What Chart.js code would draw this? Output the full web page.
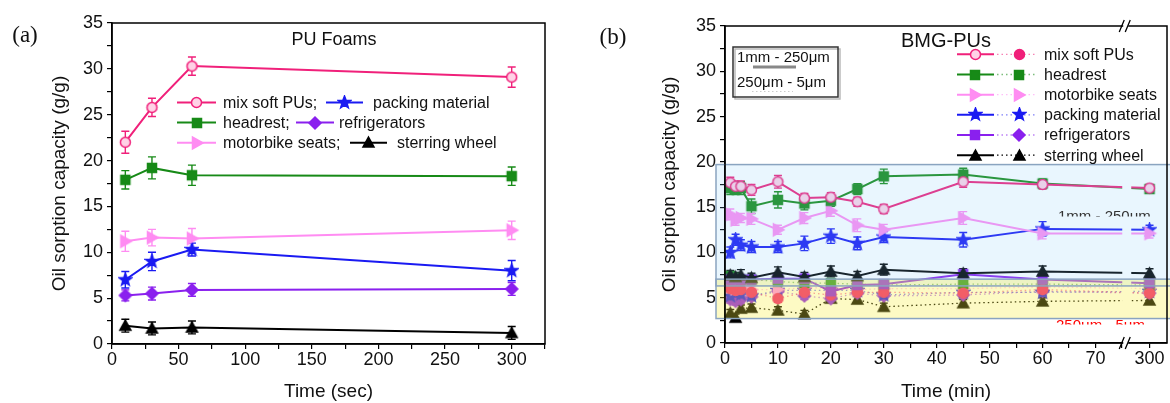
<!DOCTYPE html>
<html>
<head>
<meta charset="utf-8">
<script src="https://cdn.jsdelivr.net/npm/chart.js@4.4.0/dist/chart.umd.min.js"></script>
<style>
  html, body { margin: 0; padding: 0; background: #fff; }
  #wrap { position: relative; width: 1170px; height: 403px; }
  canvas { position: absolute; top: 0; }
</style>
</head>
<body>
<div id="wrap">
  <canvas id="chartA" width="585" height="403" style="left:0"></canvas>
  <canvas id="chartB" width="585" height="403" style="left:585px"></canvas>
</div>
<script>
// ---- panel (a): PU foams, time in seconds ----
const aTime = [10, 30, 60, 300];
const aMixSoft = [22.0, 25.8, 30.3, 29.1];
const aHeadrest = [17.9, 19.2, 18.4, 18.3];
const aMotorbike = [11.2, 11.6, 11.5, 12.4];
const aPacking = [7.0, 9.0, 10.3, 8.0];
const aFridge = [5.3, 5.5, 5.9, 6.0];
const aWheel = [2.0, 1.7, 1.8, 1.2];
const aMixSoftErr = [1.2, 1.0, 1.0, 1.1];
const aHeadrestErr = [1.0, 1.2, 1.1, 1.0];
const aMotorbikeErr = [1.1, 0.9, 1.1, 1.0];
const aPackingErr = [0.9, 1.0, 0.7, 1.1];
const aFridgeErr = [0.6, 0.7, 0.7, 0.7];
const aWheelErr = [0.7, 0.7, 0.7, 0.7];

// ---- panel (b): BMG-PUs, time in minutes (axis broken after 75) ----
const bTime = [1, 2, 3, 5, 10, 15, 20, 25, 30, 45, 60, 300];
// 1mm - 250um fraction (solid lines)
const bMixSoft = [17.7, 17.3, 17.3, 16.9, 17.8, 16.0, 16.1, 15.6, 14.8, 17.8, 17.5, 17.1];
const bHeadrest = [17.1, 17.0, 17.1, 15.1, 15.8, 15.4, 15.7, 17.0, 18.4, 18.6, 17.6, 17.0];
const bMotorbike = [14.2, 13.6, 13.8, 13.7, 12.5, 13.8, 14.6, 13.0, 12.5, 13.8, 12.1, 12.1];
const bPacking = [10.0, 11.4, 10.8, 10.6, 10.6, 11.0, 11.8, 11.0, 11.7, 11.4, 12.6, 12.5];
const bFridge = [7.0, 7.0, 7.0, 7.0, 7.1, 7.1, 5.7, 6.4, 6.5, 7.6, 7.0, 6.6];
const bWheel = [7.5, 7.3, 7.5, 7.2, 7.8, 7.3, 7.9, 7.4, 8.1, 7.7, 7.9, 7.7];
const bMixSoftErr = [0.6, 0.6, 0.6, 0.6, 0.7, 0.5, 0.5, 0.5, 0.5, 0.6, 0.5, 0.4];
const bHeadrestErr = [0.7, 0.6, 0.7, 0.8, 0.9, 0.7, 0.6, 0.6, 0.8, 0.7, 0.5, 0.4];
const bMotorbikeErr = [0.6, 0.6, 0.5, 0.6, 0.5, 0.6, 0.6, 0.7, 0.6, 0.7, 0.6, 0.5];
const bPackingErr = [0.6, 0.6, 0.6, 0.6, 0.6, 0.8, 0.8, 0.7, 0.6, 0.8, 0.8, 0.5];
const bFridgeErr = [0.5, 0.5, 0.5, 0.5, 0.5, 0.5, 0.5, 0.5, 0.5, 0.5, 0.5, 0.5];
const bWheelErr = [0.5, 0.5, 0.6, 0.5, 0.6, 0.5, 0.6, 0.5, 0.6, 0.5, 0.6, 0.5];
// 250um - 5um fraction (dotted lines)
const bMixSoftFine = [6.0, 5.8, 5.9, 5.6, 4.9, 5.6, 5.3, 5.6, 5.6, 5.5, 5.9, 5.5];
const bHeadrestFine = [7.4, 7.2, 7.0, 7.0, 6.8, 6.6, 6.6, 6.5, 6.4, 6.5, 6.5, 6.4];
const bMotorbikeFine = [6.2, 6.0, 6.0, 5.9, 5.9, 6.1, 6.1, 5.9, 6.0, 6.0, 6.2, 6.0];
const bPackingFine = [5.2, 5.5, 5.4, 5.2, 5.8, 5.8, 5.8, 5.8, 5.3, 5.6, 5.6, 5.7];
const bFridgeFine = [4.8, 4.6, 4.8, 5.1, 5.7, 5.2, 4.9, 5.5, 5.2, 5.3, 5.7, 5.5];
const bWheelFine = [3.3, 2.8, 3.8, 3.9, 3.6, 3.2, 4.9, 4.8, 4.0, 4.4, 4.6, 4.7];
const bFineErr = [0.4, 0.4, 0.4, 0.4, 0.4, 0.4, 0.4, 0.4, 0.4, 0.4, 0.4, 0.4];

const yTicksLabelStep = 5;
const aXLabels = [0, 50, 100, 150, 200, 250, 300];
const bXTicks = [0, 5, 10, 15, 20, 25, 30, 35, 40, 45, 50, 55, 60, 65, 70, 75];
const bBreakAt = 75.8;   // where the "//" sits on the broken axis
const bPos300 = 80.2;    // axis position used for t = 300 min
const bBlueBand = [6.3, 19.7];
const bYellowBand = [2.7, 7.05];

const FONT = '"Liberation Sans", Arial, sans-serif';
Chart.defaults.font.family = FONT;
Chart.defaults.color = '#111';

const PINK = '#f0207a', GREEN = '#178a17', LPINK = '#ff8cf2',
      BLUE = '#1a1af2', PURPLE = '#8a20ee', BLACK = '#000';

function makeMarker(shape, color, size, fill) {
  const c = document.createElement('canvas');
  const s = size + 4;
  c.width = s; c.height = s;
  const g = c.getContext('2d');
  const m = s / 2, r = size / 2;
  g.fillStyle = fill || color;
  g.strokeStyle = color;
  g.lineWidth = 1.5;
  g.beginPath();
  if (shape === 'circle') {
    g.arc(m, m, r - 0.5, 0, Math.PI * 2);
  } else if (shape === 'square') {
    g.rect(m - r + 0.5, m - r + 0.5, size - 1, size - 1);
  } else if (shape === 'diamond') {
    g.moveTo(m, m - r); g.lineTo(m + r, m); g.lineTo(m, m + r); g.lineTo(m - r, m);
  } else if (shape === 'triUp') {
    g.moveTo(m, m - r); g.lineTo(m + r, m + r * 0.8); g.lineTo(m - r, m + r * 0.8);
  } else if (shape === 'triRight') {
    g.moveTo(m + r, m); g.lineTo(m - r * 0.75, m - r); g.lineTo(m - r * 0.75, m + r);
  } else if (shape === 'star') {
    for (let k = 0; k < 10; k++) {
      const rr = k % 2 === 0 ? r + 1 : (r + 1) * 0.42;
      const a = -Math.PI / 2 + k * Math.PI / 5;
      const px = m + rr * Math.cos(a), py = m + rr * Math.sin(a);
      if (k === 0) g.moveTo(px, py); else g.lineTo(px, py);
    }
  }
  g.closePath();
  g.fill();
  g.stroke();
  return c;
}

function pts(times, vals, mapX) {
  return times.map((t, i) => ({ x: mapX ? mapX(t) : t, y: vals[i] }));
}

// broken axis: everything past 75 min goes to the "300" slot
function brk(t) { return t > 75 ? bPos300 : t; }

function drawErrorBars(chart) {
  const ctx = chart.ctx, ys = chart.scales.y;
  chart.data.datasets.forEach((ds, i) => {
    if (!ds.errors) return;
    const meta = chart.getDatasetMeta(i);
    ctx.save();
    ctx.strokeStyle = ds.errColor || ds.borderColor;
    ctx.lineWidth = 1.4;
    meta.data.forEach((pt, j) => {
      const v = ds.data[j].y, e = ds.errors[j];
      const y1 = ys.getPixelForValue(v + e), y2 = ys.getPixelForValue(v - e);
      ctx.beginPath();
      ctx.moveTo(pt.x, y1); ctx.lineTo(pt.x, y2);
      ctx.moveTo(pt.x - 4, y1); ctx.lineTo(pt.x + 4, y1);
      ctx.moveTo(pt.x - 4, y2); ctx.lineTo(pt.x + 4, y2);
      ctx.stroke();
    });
    ctx.restore();
  });
}

function frame(chart) {
  const { ctx, chartArea: a } = chart;
  ctx.save();
  ctx.strokeStyle = '#000';
  ctx.lineWidth = 1.5;
  ctx.strokeRect(a.left, a.top, a.right - a.left, a.bottom - a.top);
  ctx.restore();
}

function text(ctx, str, x, y, size, opts = {}) {
  ctx.save();
  ctx.font = (opts.family ? size + 'px ' + opts.family : size + 'px ' + FONT);
  ctx.fillStyle = opts.color || '#111';
  ctx.textAlign = opts.align || 'left';
  ctx.textBaseline = opts.baseline || 'middle';
  ctx.fillText(str, x, y);
  ctx.restore();
}

function legendLine(ctx, x1, x2, y, color, marker, dashed) {
  ctx.save();
  ctx.strokeStyle = color;
  ctx.lineWidth = dashed ? 1.3 : 2;
  if (dashed) ctx.setLineDash([1.5, 3]);
  ctx.beginPath(); ctx.moveTo(x1, y); ctx.lineTo(x2, y); ctx.stroke();
  ctx.restore();
}

function putMarker(ctx, mk, x, y) {
  ctx.drawImage(mk, Math.round(x - mk.width / 2), Math.round(y - mk.height / 2));
}

function commonScales(xOpts, yWidth, xHeight) {
  return {
    x: Object.assign({
      type: 'linear',
      grid: { drawOnChartArea: false, tickLength: 5, color: '#000', lineWidth: 1.2 },
      border: { display: true, color: '#000', width: 1.5 },
      afterFit: s => { s.height = xHeight; }
    }, xOpts),
    y: {
      type: 'linear', min: 0, max: 35,
      ticks: {
        stepSize: 2.5, autoSkip: false, padding: 4,
        font: { size: 18 }, color: '#111',
        callback: v => (v % yTicksLabelStep === 0 ? v : '')
      },
      grid: { drawOnChartArea: false, tickLength: 5, color: '#000', lineWidth: 1.2 },
      border: { display: true, color: '#000', width: 1.5 },
      title: { display: true, text: 'Oil sorption capacity (g/g)', font: { size: 19 }, color: '#111', padding: { top: 3, bottom: 0 } },
      afterFit: s => { s.width = yWidth; }
    }
  };
}

// ---------- panel (a) ----------
const mkA = {
  mix: makeMarker('circle', PINK, 11, '#ffd2e6'),
  head: makeMarker('square', GREEN, 10),
  moto: makeMarker('triRight', LPINK, 12),
  pack: makeMarker('star', BLUE, 11),
  fridge: makeMarker('diamond', PURPLE, 12),
  wheel: makeMarker('triUp', BLACK, 11)
};

function lineDs(label, data, color, marker, errors, extra) {
  return Object.assign({
    label, data, errors,
    borderColor: color, backgroundColor: color,
    borderWidth: 2, pointStyle: marker, pointRadius: 5,
    tension: 0, fill: false
  }, extra || {});
}

const plugA = {
  id: 'panelA',
  beforeDatasetsDraw: drawErrorBars,
  afterDraw(chart) {
    const ctx = chart.ctx;
    frame(chart);
    text(ctx, '(a)', 25, 36, 23, { family: '"Liberation Serif", "Times New Roman", serif', align: 'center' });
    text(ctx, 'PU Foams', 334, 40, 18, { align: 'center' });
    const rows = [
      [102.5, 177, 216, PINK, mkA.mix, 'mix soft PUs;', 326, 363, BLUE, mkA.pack, 'packing material', 373],
      [122.5, 177, 216, GREEN, mkA.head, 'headrest;', 296, 334, PURPLE, mkA.fridge, 'refrigerators', 339],
      [142.7, 177, 216, LPINK, mkA.moto, 'motorbike seats;', 350, 387, BLACK, mkA.wheel, 'sterring wheel', 397]
    ];
    rows.forEach(r => {
      const [y, l1, l2, c1, m1, t1, k1, k2, c2, m2, t2, tx2] = r;
      legendLine(ctx, l1, l2, y, c1); putMarker(ctx, m1, (l1 + l2) / 2, y);
      text(ctx, t1, 223, y + 1, 16);
      legendLine(ctx, k1, k2, y, c2); putMarker(ctx, m2, (k1 + k2) / 2, y);
      text(ctx, t2, tx2, y + 1, 16);
    });
  }
};

new Chart(document.getElementById('chartA'), {
  type: 'line',
  data: {
    datasets: [
      lineDs('mix soft PUs', pts(aTime, aMixSoft), PINK, mkA.mix, aMixSoftErr),
      lineDs('headrest', pts(aTime, aHeadrest), GREEN, mkA.head, aHeadrestErr),
      lineDs('motorbike seats', pts(aTime, aMotorbike), LPINK, mkA.moto, aMotorbikeErr),
      lineDs('packing material', pts(aTime, aPacking), BLUE, mkA.pack, aPackingErr),
      lineDs('refrigerators', pts(aTime, aFridge), PURPLE, mkA.fridge, aFridgeErr),
      lineDs('sterring wheel', pts(aTime, aWheel), BLACK, mkA.wheel, aWheelErr)
    ]
  },
  options: {
    responsive: false, animation: false, events: [],
    layout: { autoPadding: false, padding: { left: 45, right: 40, top: 23, bottom: 0 } },
    plugins: { legend: { display: false }, tooltip: { enabled: false } },
    scales: commonScales({
      min: 0, max: 325,
      ticks: {
        stepSize: 25, autoSkip: false, maxRotation: 0, padding: 0,
        font: { size: 18 }, color: '#111',
        callback: v => (aXLabels.includes(v) ? v : '')
      },
      title: { display: true, text: 'Time (sec)', font: { size: 19 }, color: '#111', padding: { top: 0, bottom: 0 } }
    }, 67, 59)
  },
  plugins: [plugA]
});

// ---------- panel (b) ----------
const mkB = {
  mix: makeMarker('circle', PINK, 11, '#ffd2e6'),
  mixF: makeMarker('circle', PINK, 11),
  head: makeMarker('square', GREEN, 10),
  moto: makeMarker('triRight', LPINK, 12),
  pack: makeMarker('star', BLUE, 11),
  fridge: makeMarker('square', PURPLE, 10),
  fridgeF: makeMarker('diamond', PURPLE, 12),
  wheel: makeMarker('triUp', BLACK, 11)
};

function fineDs(label, data, color, marker, errors) {
  return lineDs(label, data, color + '90', marker, errors, {
    borderWidth: 1.3, borderDash: [1.5, 3], errColor: color
  });
}

const plugB = {
  id: 'panelB',
  beforeDatasetsDraw: drawErrorBars,
  afterDatasetsDraw(chart) {
    const { ctx, chartArea: a, scales: { x, y } } = chart;
    // gap in the lines where the axis is broken
    const xb = x.getPixelForValue(bBreakAt);
    ctx.save();
    ctx.fillStyle = '#fff';
    ctx.fillRect(xb - 4, a.top + 1, 9, a.bottom - a.top - 2);
    // size-fraction bands
    const bx = a.left - 9, bw = chart.width - bx;
    const by1 = y.getPixelForValue(bBlueBand[1]), by2 = y.getPixelForValue(bBlueBand[0]);
    const yy1 = y.getPixelForValue(bYellowBand[1]), yy2 = y.getPixelForValue(bYellowBand[0]);
    ctx.fillStyle = 'rgba(135,206,250,0.18)';
    ctx.fillRect(bx, by1, bw, by2 - by1);
    ctx.fillStyle = 'rgba(250,240,60,0.3)';
    ctx.fillRect(bx, yy1, bw, yy2 - yy1);
    ctx.strokeStyle = '#8aa4c0';
    ctx.lineWidth = 1.5;
    ctx.strokeRect(bx, by1, bw + 5, by2 - by1);
    ctx.strokeRect(bx, yy1, bw + 5, yy2 - yy1);
    // half-hidden band captions
    ctx.save();
    ctx.beginPath(); ctx.rect(0, 200, chart.width, 16.5); ctx.clip();
    text(ctx, '1mm - 250\u03bcm', 473, 209, 15, { color: '#333', baseline: 'top' });
    ctx.restore();
    ctx.save();
    ctx.beginPath(); ctx.rect(0, 319, chart.width, 5.5); ctx.clip();
    text(ctx, '250\u03bcm - 5\u03bcm', 471, 318, 15, { color: '#f00', baseline: 'top' });
    ctx.restore();
    ctx.restore();
  },
  afterDraw(chart) {
    const { ctx, chartArea: a, scales: { x } } = chart;
    frame(chart);
    // axis break marks
    const xb = x.getPixelForValue(bBreakAt);
    [a.top, a.bottom].forEach(yb => {
      ctx.save();
      ctx.fillStyle = '#fff';
      ctx.fillRect(xb - 3, yb - 2, 5, 4);
      ctx.strokeStyle = '#000';
      ctx.lineWidth = 1.3;
      ctx.beginPath();
      ctx.moveTo(xb - 7, yb + 6); ctx.lineTo(xb - 2, yb - 6);
      ctx.moveTo(xb - 1, yb + 6); ctx.lineTo(xb + 4, yb - 6);
      ctx.stroke();
      ctx.restore();
    });
    text(ctx, '(b)', 28, 38, 23, { family: '"Liberation Serif", "Times New Roman", serif', align: 'center' });
    text(ctx, 'BMG-PUs', 361, 41, 20, { align: 'center' });
    // fraction key box
    ctx.save();
    ctx.strokeStyle = '#bbb'; ctx.lineWidth = 1.5;
    ctx.strokeRect(150, 49, 105, 50);
    ctx.strokeStyle = '#333'; ctx.lineWidth = 1.5;
    ctx.strokeRect(148, 47, 105, 50);
    ctx.strokeStyle = '#888'; ctx.lineWidth = 3;
    ctx.beginPath(); ctx.moveTo(168, 67); ctx.lineTo(211, 67); ctx.stroke();
    ctx.strokeStyle = '#ccc'; ctx.lineWidth = 1; ctx.setLineDash([1.5, 2.5]);
    ctx.beginPath(); ctx.moveTo(167, 91.5); ctx.lineTo(208, 91.5); ctx.stroke();
    ctx.restore();
    text(ctx, '1mm - 250\u03bcm', 152, 57.5, 15);
    text(ctx, '250\u03bcm - 5\u03bcm', 152, 83, 15);
    // series key
    const rows = [
      [54.3, PINK, mkB.mix, mkB.mixF, 'mix soft PUs'],
      [74.5, GREEN, mkB.head, mkB.head, 'headrest'],
      [94.7, LPINK, mkB.moto, mkB.moto, 'motorbike seats'],
      [114.8, BLUE, mkB.pack, mkB.pack, 'packing material'],
      [135, PURPLE, mkB.fridge, mkB.fridgeF, 'refrigerators'],
      [155.2, BLACK, mkB.wheel, mkB.wheel, 'sterring wheel']
    ];
    rows.forEach(([yy, c, m1, m2, label]) => {
      legendLine(ctx, 372, 409, yy, c);
      putMarker(ctx, m1, 390, yy);
      legendLine(ctx, 412, 452, yy, c + '90', null, true);
      putMarker(ctx, m2, 434, yy);
      text(ctx, label, 459, yy + 1, 16);
    });
  }
};

new Chart(document.getElementById('chartB'), {
  type: 'line',
  data: {
    datasets: [
      lineDs('mix soft PUs', pts(bTime, bMixSoft, brk), PINK, mkB.mix, bMixSoftErr),
      lineDs('headrest', pts(bTime, bHeadrest, brk), GREEN, mkB.head, bHeadrestErr),
      lineDs('motorbike seats', pts(bTime, bMotorbike, brk), LPINK, mkB.moto, bMotorbikeErr),
      lineDs('packing material', pts(bTime, bPacking, brk), BLUE, mkB.pack, bPackingErr),
      lineDs('sterring wheel', pts(bTime, bWheel, brk), BLACK, mkB.wheel, bWheelErr),
      lineDs('refrigerators', pts(bTime, bFridge, brk), PURPLE, mkB.fridge, bFridgeErr),
      fineDs('mix soft PUs fine', pts(bTime, bMixSoftFine, brk), PINK, mkB.mixF, bFineErr),
      fineDs('headrest fine', pts(bTime, bHeadrestFine, brk), GREEN, mkB.head, bFineErr),
      fineDs('motorbike seats fine', pts(bTime, bMotorbikeFine, brk), LPINK, mkB.moto, bFineErr),
      fineDs('packing material fine', pts(bTime, bPackingFine, brk), BLUE, mkB.pack, bFineErr),
      fineDs('refrigerators fine', pts(bTime, bFridgeFine, brk), PURPLE, mkB.fridgeF, bFineErr),
      fineDs('sterring wheel fine', pts(bTime, bWheelFine, brk), BLACK, mkB.wheel, bFineErr)
    ]
  },
  options: {
    responsive: false, animation: false, events: [],
    layout: { autoPadding: false, padding: { left: 70, right: 3, top: 26, bottom: 0 } },
    plugins: { legend: { display: false }, tooltip: { enabled: false } },
    scales: commonScales({
      min: 0, max: 83.5,
      afterBuildTicks: s => { s.ticks = bXTicks.concat([bPos300]).map(v => ({ value: v })); },
      ticks: {
        autoSkip: false, maxRotation: 0, padding: 0,
        font: { size: 18 }, color: '#111',
        callback: v => (v === bPos300 ? '300' : (v % 10 === 0 ? v : ''))
      },
      title: { display: true, text: 'Time (min)', font: { size: 19 }, color: '#111', padding: { top: 0, bottom: 0 } }
    }, 70, 60)
  },
  plugins: [plugB]
});
</script>
</body>
</html>
